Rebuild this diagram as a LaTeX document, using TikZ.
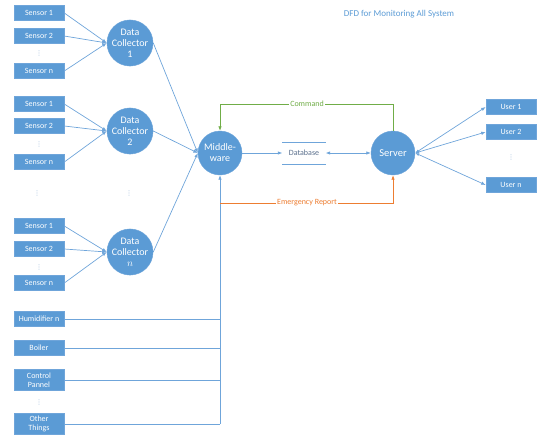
\documentclass[tikz,border=0pt]{standalone}
\usepackage{fontspec}
\setmainfont{Carlito}
\newfontfamily\dejavu{DejaVu Sans}
\usetikzlibrary{arrows.meta}
\definecolor{obox}{HTML}{5B9BD5}
\definecolor{oline}{HTML}{6FA5DA}
\definecolor{ogreen}{HTML}{70AD47}
\definecolor{oorange}{HTML}{ED7D31}
\definecolor{odb}{HTML}{5A6F8C}
\definecolor{odots}{HTML}{8FB0D6}
\tikzset{
  box/.style={draw=oline, line width=0.6pt, fill=obox, text=white, minimum width=50pt, minimum height=15pt, inner sep=1pt, font=\fontsize{8}{8.5}\selectfont, align=center},
  tallbox/.style={box, minimum height=21pt},
  circ/.style={circle, fill=obox, draw=oline, text=white, minimum size=42pt, inner sep=0pt, align=center, font=\fontsize{10}{11}\selectfont},
  bigcirc/.style={circ, minimum size=44pt},
  flow/.style={draw=oline, line width=0.7pt, -{Latex[length=4.5pt,width=3.5pt]}},
  plain/.style={draw=oline, line width=0.7pt},
  vd/.style={text=odots, font=\dejavu\fontsize{6.5}{6.5}\selectfont, inner sep=0pt},
  lbl/.style={fill=white, inner sep=1pt, font=\fontsize{8}{8.5}\selectfont},
}
\begin{document}
\begin{tikzpicture}[x=1pt, y=-1pt]
\useasboundingbox (0,0) rectangle (540,434);
% title
\node[text=obox, font=\fontsize{9}{10}\selectfont] (title) at (399,14) {DFD for Monitoring All System};
% group 1
\node[box] (a1) at (39,13) {Sensor 1};
\node[box] (a2) at (39,36) {Sensor 2};
\node[vd] (ad) at (39,53) {⋮};
\node[box] (an) at (39,71) {Sensor n};
\node[circ] (dc1) at (130,43) {Data\\Collector\\1};
% group 2
\node[box] (b1) at (39,104) {Sensor 1};
\node[box] (b2) at (39,126) {Sensor 2};
\node[vd] (bd) at (39,144) {⋮};
\node[box] (bn) at (39,162) {Sensor n};
\node[circ] (dc2) at (130,131) {Data\\Collector\\2};
% middle dots
\node[vd] (md1) at (37,193) {⋮};
\node[vd] (md2) at (129,193) {⋮};
% group 3
\node[box] (c1) at (39,226) {Sensor 1};
\node[box] (c2) at (39,249) {Sensor 2};
\node[vd] (cd) at (39,267) {⋮};
\node[box] (cn) at (39,283) {Sensor n};
\node[circ] (dc3) at (130,252) {Data\\Collector\\$n$};
% devices
\node[box] (hum) at (39,319) {Humidifier n};
\node[box] (boi) at (39,348) {Boiler};
\node[tallbox] (cp) at (39,380) {Control\\Pannel};
\node[vd] (dd) at (39,402) {⋮};
\node[tallbox] (oth) at (39,424) {Other\\Things};
% centre
\node[bigcirc] (mw) at (220,153) {Middle-\\ware};
\node[bigcirc, font=\fontsize{10.5}{11.5}\selectfont] (sv) at (393,153) {Server};
\node[text=odb, minimum width=43pt, minimum height=22pt, inner sep=0pt, font=\fontsize{8}{8.5}\selectfont] (db) at (304,153) {Database};
\draw[oline, line width=0.6pt] (db.north west) -- (db.north east);
\draw[oline, line width=0.6pt] (db.south west) -- (db.south east);
% users
\node[box] (u1) at (511,107) {User 1};
\node[box] (u2) at (511,132) {User 2};
\node[vd] (ud) at (511,157) {⋮};
\node[box] (un) at (511,185) {User n};
% sensor arrows
\foreach \s in {a1,a2,an} \draw[flow] (\s.east) -- (dc1.west);
\foreach \s in {b1,b2,bn} \draw[flow] (\s.east) -- (dc2.west);
\foreach \s in {c1,c2,cn} \draw[flow] (\s.east) -- (dc3.west);
% collectors to middleware
\foreach \c in {dc1,dc2,dc3} \draw[flow] (\c.east) -- (mw.west);
% devices bus
\foreach \d in {hum,boi,cp,oth} \draw[plain] (\d.east) -- (\d.east -| mw.south);
\draw[flow] (oth.east -| mw.south) -- (mw.south);
% middleware - database - server
\draw[flow] (mw.east) -- (db.west);
\draw[flow, {Latex[length=4.5pt,width=3.5pt]}-{Latex[length=4.5pt,width=3.5pt]}] (db.east) -- (sv.west);
% command
\draw[draw=ogreen, line width=0.7pt, -{Latex[length=4.5pt,width=3.5pt]}] (sv.north) -- (sv.north |- 0,104) -- (mw.north |- 0,104) -- (mw.north);
\node[lbl, text=ogreen] (cmd) at (307,104) {Command};
% emergency
\draw[draw=oorange, line width=0.7pt, -{Latex[length=4.5pt,width=3.5pt]}] (mw.south |- 0,203) -- (sv.south |- 0,203) -- (sv.south);
\node[lbl, text=oorange] (emg) at (307,203) {Emergency Report};
% users
\foreach \u in {u1,u2,un} \draw[flow, {Latex[length=4pt,width=3pt]}-{Latex[length=4.5pt,width=3.5pt]}] (sv.east) -- (\u.west);
\end{tikzpicture}
\end{document}
